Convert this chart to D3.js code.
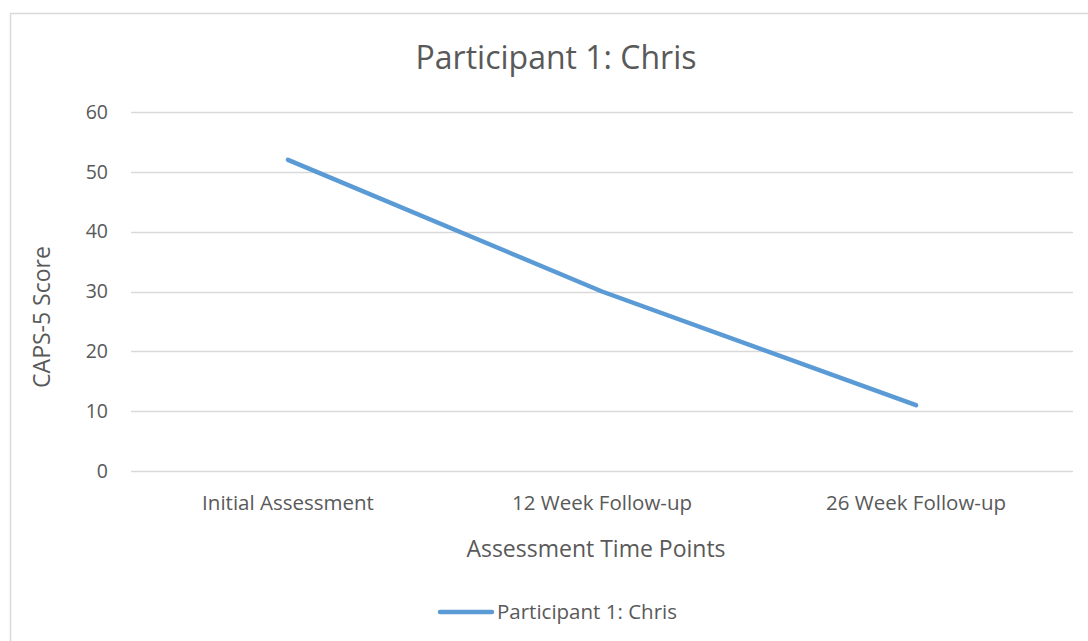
<!DOCTYPE html>
<html>
<head>
<meta charset="utf-8">
<script src="https://cdn.jsdelivr.net/npm/d3@7"></script>
<style>
  body { margin: 0; background: #fff; }
  text { font-family: "Open Sans", "Noto Sans", sans-serif; fill: #595959; }
</style>
</head>
<body>
<div id="chart"></div>
<script>
const categories = ["Initial Assessment", "12 Week Follow-up", "26 Week Follow-up"];
const scores = [52, 30, 11];
const yTicks = [0, 10, 20, 30, 40, 50, 60];
const seriesName = "Participant 1: Chris";

const width = 1088, height = 641;
const margin = {left: 131, right: 15, top: 112, bottom: 170};

const svg = d3.select("#chart").append("svg").attr("width", width).attr("height", height);

// outer chart border (runs off the right and bottom edges)
svg.append("rect")
  .attr("x", 10.5).attr("y", 13.5)
  .attr("width", width).attr("height", height)
  .attr("fill", "none").attr("stroke", "#d9d9d9").attr("stroke-width", 1.5);

const x = d3.scaleBand(categories, [margin.left, width - margin.right]);
const y = d3.scaleLinear([0, 60], [height - margin.bottom, margin.top]);

// gridlines
svg.append("g")
  .selectAll("line")
  .data(yTicks)
  .join("line")
  .attr("x1", margin.left).attr("x2", width - margin.right)
  .attr("y1", (d) => Math.round(y(d)) + 0.5).attr("y2", (d) => Math.round(y(d)) + 0.5)
  .attr("stroke", "#d9d9d9").attr("stroke-width", 1.3);

// y tick labels
svg.append("g")
  .selectAll("text")
  .data(yTicks)
  .join("text")
  .attr("x", 108).attr("y", (d) => y(d))
  .attr("dy", "0.35em").attr("text-anchor", "end")
  .attr("font-size", 19.5)
  .text((d) => d);

// x tick labels
svg.append("g")
  .selectAll("text")
  .data(categories)
  .join("text")
  .attr("x", (d) => x(d) + x.bandwidth() / 2).attr("y", 503)
  .attr("dy", "0.35em").attr("text-anchor", "middle")
  .attr("font-size", 20.5)
  .text((d) => d);

// line
const line = d3.line()
  .x((d, i) => x(categories[i]) + x.bandwidth() / 2)
  .y((d) => y(d));

svg.append("path")
  .datum(scores)
  .attr("d", line)
  .attr("fill", "none")
  .attr("stroke", "#5b9bd5")
  .attr("stroke-width", 4.5)
  .attr("stroke-linecap", "round")
  .attr("stroke-linejoin", "round");

// title
svg.append("text")
  .attr("x", 556).attr("y", 58).attr("dy", "0.35em")
  .attr("text-anchor", "middle").attr("font-size", 32)
  .text(seriesName);

// axis titles
svg.append("text")
  .attr("x", 596).attr("y", 549).attr("dy", "0.35em")
  .attr("text-anchor", "middle").attr("font-size", 23)
  .text("Assessment Time Points");

svg.append("text")
  .attr("transform", "translate(42, 317) rotate(-90)")
  .attr("dy", "0.35em")
  .attr("text-anchor", "middle").attr("font-size", 23)
  .text("CAPS-5 Score");

// legend
const legend = svg.append("g").attr("transform", "translate(440, 612)");
legend.append("line")
  .attr("x1", 0).attr("x2", 52)
  .attr("stroke", "#5b9bd5").attr("stroke-width", 4.5).attr("stroke-linecap", "round");
legend.append("text")
  .attr("x", 57).attr("dy", "0.35em").attr("font-size", 20.5)
  .text(seriesName);
</script>
</body>
</html>
